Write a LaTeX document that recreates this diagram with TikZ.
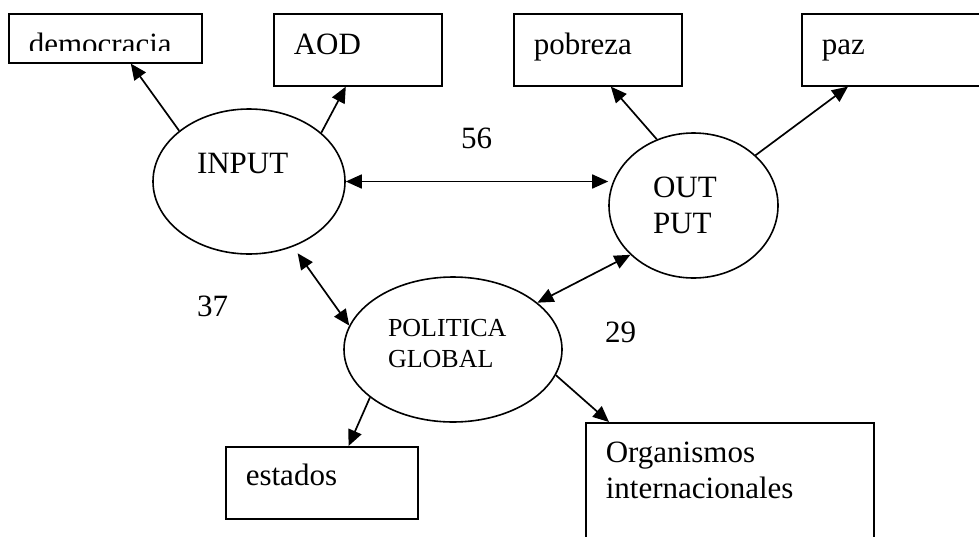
\documentclass[tikz,border=0pt]{standalone}
\usepackage{fontspec}
\setmainfont{Liberation Serif}
\usetikzlibrary{arrows.meta,shapes.geometric}
\tikzset{box/.style={draw,line width=1.6pt,anchor=north west,inner xsep=20pt,inner ysep=0pt,align=left,font=\fontsize{31}{36}\selectfont},oval/.style={draw,ellipse,line width=1.6pt,inner sep=0pt,align=left},arr/.style={-{Triangle[length=16pt,width=14pt]},line width=1.7pt},dblarr/.style={{Triangle[length=16pt,width=14pt]}-{Triangle[length=16pt,width=14pt]},line width=1.7pt},num/.style={anchor=base west,inner sep=0pt,font=\fontsize{31}{36}\selectfont}}
\begin{document}
\begin{tikzpicture}[x=1pt,y=-1pt]
\clip (0,0) rectangle (979,536);
\node[box,text width=153pt,text height=41pt,text depth=8pt] (democracia) at (8,13) {democracia};
\fill[white] ([shift={(2pt,2pt)}]democracia.south west) rectangle ([shift={(-2pt,12.5pt)}]democracia.south east);
\node[box,text width=128pt,text height=41pt,text depth=31pt] (aod) at (273,13) {AOD};
\node[box,text width=128pt,text height=41pt,text depth=31pt] (pobreza) at (513,13) {pobreza};
\node[box,text width=160pt,text height=41pt,text depth=31pt] (paz) at (801,13) {paz};
\node[box,text width=152pt,text height=39pt,text depth=33pt] (estados) at (225,446) {estados};
\node[box,text width=248pt,text height=40pt,text depth=120pt] (orgs) at (585,422) {Organismos\\internacionales};
\node[oval,minimum width=192pt,minimum height=145pt,text width=104pt,text height=22pt,text depth=39pt,font=\fontsize{31}{36}\selectfont] (input) at (249,181.5) {INPUT};
\node[oval,minimum width=169pt,minimum height=145pt,text width=81pt,text height=22pt,text depth=39pt,font=\fontsize{31}{36}\selectfont] (output) at (693.5,205.5) {OUT\\PUT};
\node[oval,minimum width=218pt,minimum height=145pt,text width=130pt,text height=19pt,text depth=46pt,font=\fontsize{26}{31}\selectfont] (politica) at (453,349.5) {POLITICA\\GLOBAL};
\node[num] (n56) at (461,148) {56};
\node[num] (n37) at (197,316) {37};
\node[num] (n29) at (605,342) {29};
\draw[arr] (input.144) -- ([xshift=25.5pt]democracia.south);
\draw[arr] (input.34) -- ([xshift=-12pt]aod.south);
\draw[dblarr] (input.east) -- (input.east -| output.west);
\draw[arr] (output.119) -- ([xshift=13pt]pobreza.south);
\draw[arr] (output.39) -- ([xshift=47pt]paz.south west);
\draw[dblarr,shorten <=8pt] (input.304) -- (politica.167);
\draw[dblarr] (output.218) -- (politica.29);
\draw[arr] (politica.210) -- (estados.54);
\draw[arr] (politica.346) -- ([xshift=24pt]orgs.north west);
\end{tikzpicture}
\end{document}
